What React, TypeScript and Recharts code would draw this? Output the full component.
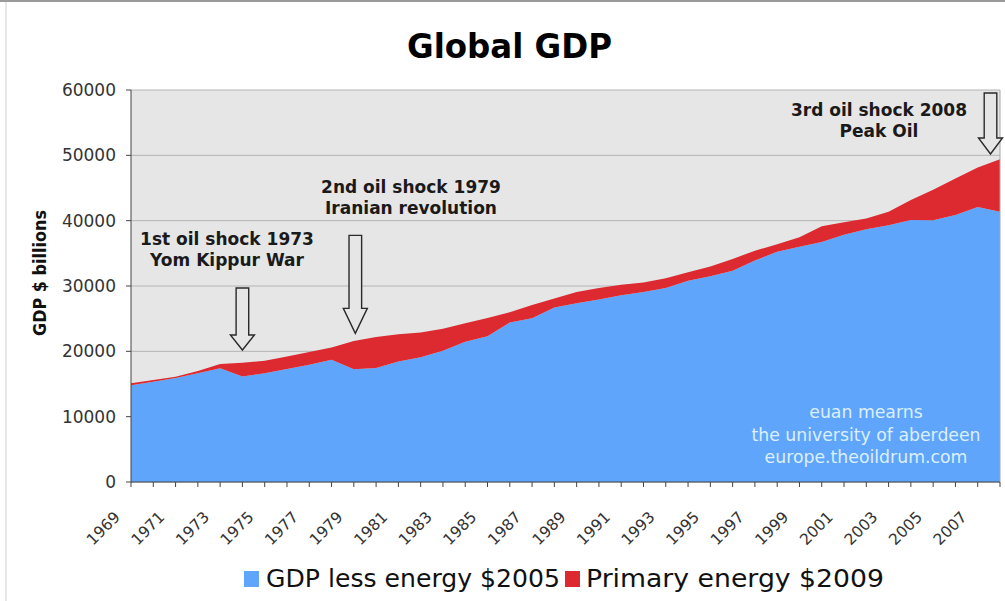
import React from 'react';
import {
  AreaChart,
  Area,
  XAxis,
  YAxis,
  CartesianGrid,
  ReferenceDot,
  ReferenceLine,
} from 'recharts';

// Years on the category axis
const years = [
  '1969', '1970', '1971', '1972', '1973', '1974', '1975', '1976', '1977', '1978',
  '1979', '1980', '1981', '1982', '1983', '1984', '1985', '1986', '1987', '1988',
  '1989', '1990', '1991', '1992', '1993', '1994', '1995', '1996', '1997', '1998',
  '1999', '2000', '2001', '2002', '2003', '2004', '2005', '2006', '2007', '2008',
];

// GDP less energy, $2005 billions
const gdpLessEnergy = [
  14800, 15350, 15900, 16650, 17400, 16150, 16650, 17300, 17950, 18700,
  17250, 17450, 18450, 19100, 20100, 21450, 22300, 24400, 25050, 26700,
  27350, 27950, 28600, 29100, 29700, 30800, 31500, 32350, 33900, 35250,
  36000, 36750, 37850, 38700, 39300, 40100, 40050, 40850, 42100, 41350,
];

// Primary energy spend, $2009 billions (stacked on top)
const primaryEnergy = [
  300, 250, 200, 350, 650, 2100, 1900, 1900, 1950, 1900,
  4350, 4750, 4150, 3800, 3350, 2850, 2800, 1600, 2050, 1400,
  1750, 1750, 1600, 1450, 1500, 1300, 1500, 1800, 1500, 1150,
  1450, 2400, 1900, 1650, 2050, 3050, 4700, 5600, 6050, 8050,
];

const yTicks = [0, 10000, 20000, 30000, 40000, 50000, 60000];

const labelledYears = [
  '1969', '1971', '1973', '1975', '1977', '1979', '1981', '1983', '1985', '1987',
  '1989', '1991', '1993', '1995', '1997', '1999', '2001', '2003', '2005', '2007',
];

// Oil shocks: arrow points at (year, value)
const shockYears = ['1974', '1979', '2008'];
const shockTips = [20200, 22750, 50200];
const shockLines = [
  ['1st oil shock 1973', 'Yom Kippur War'],
  ['2nd oil shock 1979', 'Iranian revolution'],
  ['3rd oil shock 2008', 'Peak Oil'],
];

const watermarkLines = ['euan mearns', 'the university of aberdeen', 'europe.theoildrum.com'];

const legendItems = [
  { name: 'GDP less energy $2005', color: '#5fa5fb' },
  { name: 'Primary energy $2009', color: '#dc2a30' },
];

// layout
const W = 1005;
const H = 601;
const BLUE = '#5fa5fb';
const RED = '#dc2a30';
const FONT = '"DejaVu Sans", Verdana, sans-serif';

const arrowGeometry = [
  { length: 62, head: 15, dx: 0 },
  { length: 98, head: 25, dx: 1.5 },
  { length: 61, head: 16, dx: -9.5 },
];
const shockTextPos = [
  { x: 227, y: 245 },
  { x: 411, y: 193 },
  { x: 879, y: 116 },
];

function ShockArrow(props: any) {
  const { cx, cy, length, head, dx } = props;
  if (cx == null || cy == null) return <g />;
  const x = cx + dx;
  const sw = 6.3;
  const hw = 12;
  const d = [
    `M${x - sw},${cy - length}`,
    `L${x + sw},${cy - length}`,
    `L${x + sw},${cy - head}`,
    `L${x + hw},${cy - head}`,
    `L${x},${cy}`,
    `L${x - hw},${cy - head}`,
    `L${x - sw},${cy - head}`,
    'Z',
  ].join(' ');
  return <path d={d} fill="#e6e6e6" stroke="#2a2a2a" strokeWidth={1.4} strokeLinejoin="miter" />;
}

function YearTick(props: any) {
  const { x, y, payload } = props;
  if (!labelledYears.includes(payload.value)) return <g />;
  return (
    <g transform={`translate(${x - 10},${y + 29})`}>
      <text textAnchor="end" transform="rotate(-45)" fontSize={15.5} fill="#333" fontFamily={FONT}>
        {payload.value}
      </text>
    </g>
  );
}

export default function App() {
  const rows = years.map((year, i) => ({
    year,
    gdp: gdpLessEnergy[i],
    energy: primaryEnergy[i],
  }));

  return (
    <div
      style={{
        position: 'absolute',
        left: 0,
        top: 0,
        width: W,
        height: H,
        background: '#fff',
        fontFamily: FONT,
        overflow: 'hidden',
      }}
    >
      <AreaChart
        width={W}
        height={H}
        data={rows}
        margin={{ top: 90, right: 5, bottom: 89, left: 0 }}
        style={{ fontFamily: FONT }}
      >
        <CartesianGrid vertical={false} stroke="#b4b4b4" fill="#e6e6e6" fillOpacity={1} />
        <XAxis
          dataKey="year"
          interval={0}
          height={30}
          tickSize={5}
          tick={(p: any) => <YearTick {...p} />}
          axisLine={{ stroke: '#444' }}
          tickLine={{ stroke: '#444' }}
        />
        <YAxis
          width={131}
          domain={[0, 60000]}
          ticks={yTicks}
          interval={0}
          tickSize={5}
          tickMargin={10}
          tick={{ fill: '#333', fontSize: 17, fontFamily: FONT }}
          axisLine={{ stroke: '#444' }}
          tickLine={{ stroke: '#444' }}
        />
        <Area
          type="linear"
          dataKey="gdp"
          name={legendItems[0].name}
          stackId="gdp"
          fill={BLUE}
          fillOpacity={1}
          stroke="none"
          isAnimationActive={false}
        />
        <Area
          type="linear"
          dataKey="energy"
          name={legendItems[1].name}
          stackId="gdp"
          fill={RED}
          fillOpacity={1}
          stroke="none"
          isAnimationActive={false}
        />
        <ReferenceLine x="2008" stroke="#a8a8a8" />
        {shockYears.map((yr, i) => (
          <ReferenceDot
            key={yr}
            x={yr}
            y={shockTips[i]}
            r={0}
            ifOverflow="visible"
            shape={(p: any) => <ShockArrow cx={p.cx} cy={p.cy} {...arrowGeometry[i]} />}
          />
        ))}
      </AreaChart>

      <svg
        width={W}
        height={H}
        style={{ position: 'absolute', left: 0, top: 0, pointerEvents: 'none', fontFamily: FONT }}
      >
        {/* frame */}
        <line x1={0} y1={1} x2={W} y2={1} stroke="#9a9a9a" strokeWidth={2} />
        <line x1={6} y1={2} x2={6} y2={H} stroke="#cfcfcf" strokeWidth={1} />

        <text
          x={509.5}
          y={58}
          textAnchor="middle"
          fontSize={34}
          fontWeight="bold"
          fill="#000"
          textLength={205}
          lengthAdjust="spacingAndGlyphs"
        >
          Global GDP
        </text>

        <text
          transform="translate(46,273) rotate(-90)"
          textAnchor="middle"
          fontSize={17}
          fontWeight="bold"
          fill="#111"
          textLength={126}
          lengthAdjust="spacingAndGlyphs"
        >
          GDP $ billions
        </text>

        {shockLines.map((lines, i) => (
          <text
            key={i}
            x={shockTextPos[i].x}
            y={shockTextPos[i].y}
            textAnchor="middle"
            fontSize={17}
            fontWeight="bold"
            fill="#1a1a1a"
          >
            {lines.map((ln, j) => (
              <tspan key={j} x={shockTextPos[i].x} dy={j === 0 ? 0 : 21}>
                {ln}
              </tspan>
            ))}
          </text>
        ))}

        {watermarkLines.map((ln, i) => (
          <text key={ln} x={866} y={418 + i * 22.5} textAnchor="middle" fontSize={17.3} fill="#dcefff">
            {ln}
          </text>
        ))}

        {/* legend */}
        <rect x={244} y={571} width={15} height={16} fill={legendItems[0].color} />
        <text x={266} y={587} fontSize={25} fill="#111" textLength={294} lengthAdjust="spacingAndGlyphs">
          {legendItems[0].name}
        </text>
        <rect x={565} y={571} width={15} height={16} fill={legendItems[1].color} />
        <text x={586} y={587} fontSize={25} fill="#111" textLength={298} lengthAdjust="spacingAndGlyphs">
          {legendItems[1].name}
        </text>
      </svg>
    </div>
  );
}
